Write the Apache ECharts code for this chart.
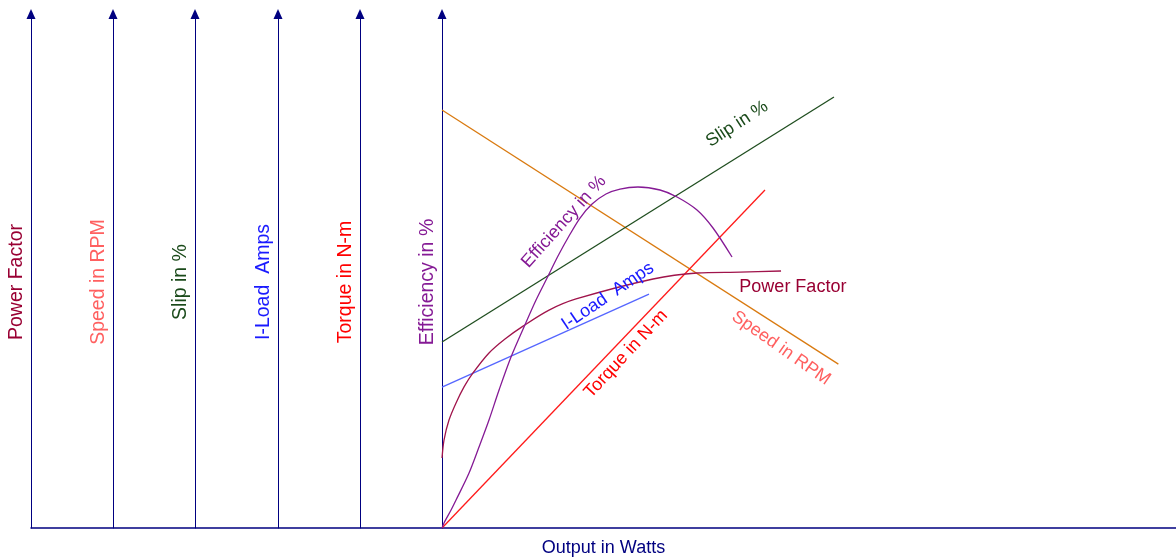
<!DOCTYPE html>
<html>
<head>
<meta charset="utf-8">
<script src="https://cdn.jsdelivr.net/npm/echarts@6/dist/echarts.min.js"></script>
<style>
  html, body { margin: 0; padding: 0; background: #fff; }
  #chart { width: 1176px; height: 558px; }
</style>
</head>
<body>
<div id="chart"></div>
<script>
// output in watts (arbitrary units, 0 at the efficiency axis)
const speedX = [0, 54];
const speedRpm = [1464, 574];
const slipX = [0, 53.4];
const slipPct = [7.24, 16.77];
const torqueX = [0, 44];
const torqueNm = [0, 13.15];
const loadX = [0, 28.2];
const loadAmps = [2.74, 4.55];
const effX = [0, 0.27, 1.23, 1.91, 3.68, 5.04, 6.4, 7.77, 9.4, 11.17, 12.81, 14.31, 15.8, 17.3, 18.8, 20.44, 22.34, 24.25, 26.7, 29.7, 32.02, 34.74, 36.92, 39.51];
const effPct = [0, 1.17, 4.2, 6.54, 12.84, 18.91, 25.21, 32.22, 39.92, 46.93, 53.23, 58.37, 63.5, 68.17, 72.37, 75.64, 77.98, 79.14, 79.61, 78.91, 77.28, 74.24, 70.04, 63.27];
const pfX = [0, 0.27, 0.95, 1.91, 3.0, 4.22, 6.4, 8.58, 11.04, 14.58, 18.26, 28.75, 34.74, 40.6, 46.19];
const pfVal = [0.245, 0.308, 0.378, 0.438, 0.494, 0.543, 0.613, 0.662, 0.707, 0.763, 0.802, 0.872, 0.893, 0.896, 0.9];

const axisNames = ['Power Factor', 'Speed in RPM', 'Slip in %', 'I-Load  Amps', 'Torque in N-m', 'Efficiency in %'];
const axisMax = [1.8, 1800, 20, 10, 20, 120];
const axisColors = ['#990033', '#ff6060', '#1a4a1a', '#1a1aff', '#ff0000', '#851a95'];
const axisOffsets = [0, -82, -164, -247, -329, -411];

const chart = echarts.init(document.getElementById('chart'));
const FONT = 'Liberation Sans';
const NAVY = '#000080';

function zip(xs, ys) {
  return xs.map((x, i) => [x, ys[i]]);
}

function curve(name, axis, xs, ys, color, tag) {
  return {
    name: name,
    type: 'line',
    yAxisIndex: axis,
    data: zip(xs, ys),
    symbol: 'none',
    smooth: 0.3,
    silent: true,
    lineStyle: { color: color, width: 1.3 },
    markPoint: {
      silent: true,
      symbol: 'circle',
      symbolSize: 1,
      itemStyle: { color: 'transparent' },
      label: {
        show: true,
        position: 'inside',
        formatter: '{b}',
        rotate: tag.rotate,
        color: tag.color,
        fontFamily: FONT,
        fontSize: 18
      },
      data: [{ name: name, coord: tag.at }]
    }
  };
}

const yAxes = axisNames.map((n, i) => ({
  type: 'value',
  position: 'left',
  offset: axisOffsets[i],
  min: 0,
  max: axisMax[i],
  name: n,
  nameLocation: 'middle',
  nameRotate: 90,
  nameGap: 4,
  nameTextStyle: {
    color: axisColors[i],
    fontFamily: FONT,
    fontSize: 19.5,
    padding: [0, 22, 0, 0]
  },
  axisLine: {
    show: true,
    onZero: false,
    symbol: ['none', 'triangle'],
    symbolSize: [9, 10],
    lineStyle: { color: NAVY, width: 1 }
  },
  axisTick: { show: false },
  axisLabel: { show: false },
  splitLine: { show: false }
}));

chart.setOption({
  animation: false,
  backgroundColor: '#fff',
  grid: { left: 31, right: 0, top: 14, bottom: 30, containLabel: false, outerBoundsMode: 'none' },
  xAxis: {
    type: 'value',
    min: -56,
    max: 100,
    name: 'Output in Watts',
    nameLocation: 'middle',
    nameGap: 11,
    nameTextStyle: { color: NAVY, fontFamily: FONT, fontSize: 18 },
    axisLine: { onZero: false, lineStyle: { color: NAVY, width: 1.5 } },
    axisTick: { show: false },
    axisLabel: { show: false },
    splitLine: { show: false }
  },
  yAxis: yAxes,
  series: [
    curve('Speed in RPM', 1, speedX, speedRpm, '#d97a10', { at: [46.2, 630], rotate: -35, color: '#ff6060' }),
    curve('Slip in %', 2, slipX, slipPct, '#1e4d1e', { at: [40.2, 15.72], rotate: 33, color: '#1a4a1a' }),
    curve('Torque in N-m', 4, torqueX, torqueNm, '#ff1a1a', { at: [25.07, 6.77], rotate: 47, color: '#ff0000' }),
    curve('I-Load  Amps', 3, loadX, loadAmps, '#5566ff', { at: [22.6, 4.51], rotate: 34, color: '#1a1aff' }),
    curve('Power Factor', 0, pfX, pfVal, '#a0144b', { at: [47.8, 0.844], rotate: 0, color: '#990033' }),
    curve('Efficiency in %', 5, effX, effPct, '#851a95', { at: [16.6, 71.5], rotate: 48, color: '#851a95' })
  ]
});
</script>
</body>
</html>
